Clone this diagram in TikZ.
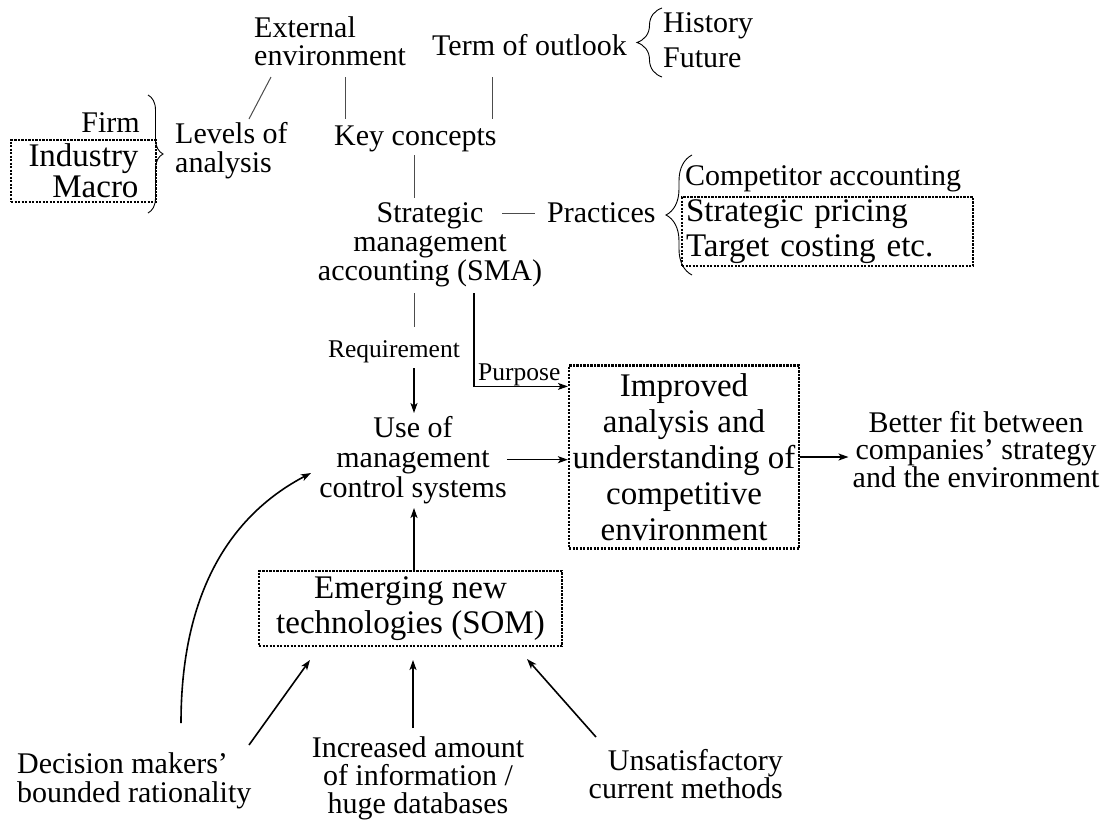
\documentclass[tikz,border=0pt]{standalone}
\usepackage{fontspec}
\setmainfont{Liberation Serif}
\usetikzlibrary{arrows.meta,decorations.pathreplacing,calc}

% text sizes used in the chart
\newcommand\fnorm{\fontsize{30}{29}\selectfont}
\newcommand\fbig{\fontsize{33}{35}\selectfont}
\newcommand\fsmall{\fontsize{25.5}{27}\selectfont}

\begin{document}
\begin{tikzpicture}[x=1pt,y=-1pt,
  txt/.style={inner sep=0pt,font=\fnorm},
  dotbox/.style={draw,dash pattern=on 2.2pt off 1.3pt,line width=2.2pt,inner sep=0pt},
  link/.style={line width=1pt,black!70},
  arr/.style={line width=1.6pt,-{Stealth[length=10pt,width=7pt,inset=2.5pt]}},
  bracedeco/.style={decorate,decoration={brace,amplitude=#1},line width=0.9pt}
]
\fill[white] (0,0) rectangle (1104,820);
\useasboundingbox (0,0) rectangle (1104,820);

% multi-line nodes are placed by the baseline of their last line

% ---------- top row: key concepts ----------
\node[txt,align=left,anchor=base west,font=\fontsize{30}{28}\selectfont] (ext) at (254,65) {External\\environment};
\node[txt,anchor=base west] (term) at (432,55) {Term of outlook};
\node[txt,align=left,anchor=base west,font=\fontsize{30}{35}\selectfont] (hist) at (663,67) {History\\Future};
\draw[bracedeco=25pt] (662,77) -- (662,8);

\node[txt,align=left,anchor=base west] (levels) at (175,172) {Levels of\\analysis};
\node[txt,anchor=base east] (firm) at (140,132) {Firm};
\node[dotbox,minimum width=145pt,minimum height=62pt,align=right,
      font=\fontsize{33}{31}\selectfont] (ind) at (83.5,171) {Industry\\Macro};
\draw[bracedeco=15pt] (148,95) -- (148,213);

\node[txt,anchor=base west] (key) at (334,145) {Key concepts};

% ---------- SMA and its practices ----------
\node[txt,align=center,anchor=base] (sma) at (430,280) {Strategic\\management\\accounting (SMA)};
\node[txt,anchor=base west] (prac) at (547,222) {Practices};
\node[txt,anchor=base west] (comp) at (685,185) {Competitor accounting};
\node[dotbox,inner xsep=4pt,text width=283pt,minimum height=69pt,align=left,
      font=\fbig,anchor=north west] (pbox) at (681,196) {Strategic pricing\\Target costing etc.};
\draw[bracedeco=26pt] (692,275) -- (692,155);

% ---------- middle: use, improved analysis, fit ----------
\node[txt,font=\fsmall,anchor=base] (req) at (394,357) {Requirement};
\node[txt,font=\fsmall,anchor=base west] (purp) at (478,380) {Purpose};
\node[dotbox,minimum width=230pt,minimum height=183pt,align=center,
      font=\fontsize{33}{36}\selectfont] (imp) at (684,457)
      {Improved\\analysis and\\understanding of\\competitive\\environment};
\node[txt,align=center,anchor=base,font=\fontsize{30}{30}\selectfont] (use) at (413,497)
      {Use of\\management\\control systems};
\node[txt,align=center,anchor=base,font=\fontsize{30}{27.5}\selectfont] (better) at (976,487)
      {Better fit between\\companies' strategy\\and the environment};

% ---------- bottom: technologies and drivers ----------
\node[dotbox,minimum width=303pt,minimum height=75pt,align=center,font=\fbig] (emg) at (410.5,608.5)
      {Emerging new\\technologies (SOM)};
\node[txt,align=left,anchor=base west] (dec) at (17,802) {Decision makers'\\bounded rationality};
\node[txt,align=center,anchor=base,font=\fontsize{30}{28}\selectfont] (inc) at (418,813)
      {Increased amount\\of information /\\huge databases};
\node[txt,align=right,anchor=base east,font=\fontsize{30}{28}\selectfont] (uns) at (783,798)
      {Unsatisfactory\\current methods};

% ---------- connector end points ----------
\coordinate (extS) at (271,77);   \coordinate (levN) at (249,119);
\coordinate (envS) at (345,77);   \coordinate (keyNl) at (345,119);
\coordinate (termS) at (492,77);  \coordinate (keyNr) at (492,119);
\coordinate (keyS) at (414,155);  \coordinate (smaN) at (414,198);
\coordinate (smaE) at (502,213);  \coordinate (pracW) at (535,213);
\coordinate (smaS) at (414,293);  \coordinate (reqN) at (414,327);
\coordinate (reqS) at (414,368);  \coordinate (useN) at (414,413);
\coordinate (smaSr) at (474,293);
\coordinate (useS) at (414,508);
\coordinate (decN) at (181,723);  \coordinate (useW) at (311,473);
\coordinate (decE) at (249,745);  \coordinate (emgSl) at (310,660);
\coordinate (incN) at (413,728);  \coordinate (emgS) at (413,660);
\coordinate (unsN) at (596,737);  \coordinate (emgSr) at (527,659);

% ---------- connectors ----------
\draw[link] (extS) -- (levN);
\draw[link] (envS) -- (keyNl);
\draw[link] (termS) -- (keyNr);
\draw[link] (keyS) -- (smaN);
\draw[link] (smaE) -- (pracW);
\draw[link] (smaS) -- (reqN);
\draw[arr] (reqS) -- (useN);
\draw[arr,line width=1.1pt] (smaSr) |- ($(imp.north west)+(0,22)$);
\draw[arr] (use.east) -- (use.east -| imp.west);
\draw[arr,shorten >=4pt] (imp.east) -- (imp.east -| better.west);
\draw[arr] (emg.north -| useS) -- (useS);
\draw[arr] (decN) .. controls (181,600) and (225,518) .. (useW);
\draw[arr] (decE) -- (emgSl);
\draw[arr] (incN) -- (emgS);
\draw[arr] (unsN) -- (emgSr);
\end{tikzpicture}
\end{document}
